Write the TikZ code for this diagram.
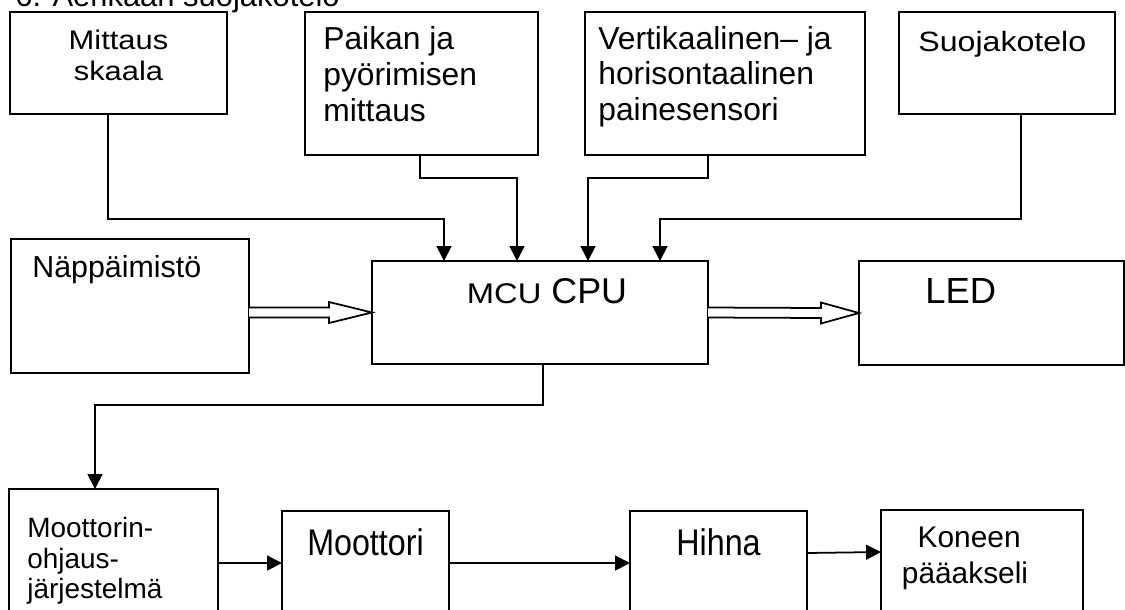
\documentclass[tikz,border=0pt]{standalone}
\usepackage{fontspec}
\setmainfont{Liberation Sans}
\newfontfamily\widefont[FakeStretch=1.15]{Liberation Sans}
\newfontfamily\narrowfont[FakeStretch=0.87]{Liberation Sans}
\usetikzlibrary{arrows.meta,calc}
\newcommand{\px}{0.02cm}

\begin{document}
\begin{tikzpicture}[x=\px, y=-\px,
  box/.style={draw, line width=1pt, anchor=north west, inner sep=0pt, outer sep=0pt},
  txt/.style={anchor=north west, align=left, inner sep=0pt},
  ctxt/.style={anchor=north, align=center, inner sep=0pt},
  arr/.style={line width=1pt, -{Triangle[length=8.5pt, width=8.5pt]}},
  hollow/.style={line width=1pt, line join=miter, fill=white}]
\useasboundingbox (0,0) rectangle (1125,609);
\clip (0,0) rectangle (1125,609);

% Title (cut off at the top)
\node[anchor=base west, inner sep=0pt, font=\fontsize{17.6}{20}\selectfont] (title) at (15,6) {6. Aerikaan suojakotelo};

% Sensors
\node[box, minimum width=217*\px, minimum height=102*\px, label={[ctxt, font=\widefont\fontsize{15.3}{17.6}\selectfont, shift={(0,17.5)}]north:{Mittaus\\skaala}}] (mit) at (10,12) {};
\node[box, minimum width=233*\px, minimum height=143*\px, label={[txt, font=\fontsize{18.1}{20.4}\selectfont, shift={(18,14)}]north west:{Paikan ja\\pyörimisen\\mittaus}}] (pai) at (305,12) {};
\node[box, minimum width=280*\px, minimum height=143*\px, label={[txt, font=\fontsize{18.1}{20.1}\selectfont, shift={(13,14)}]north west:{Vertikaalinen– ja\\horisontaalinen\\painesensori}}] (ver) at (585,12) {};
\node[box, minimum width=216*\px, minimum height=102*\px, label={[txt, font=\widefont\fontsize{15.9}{18}\selectfont, shift={(19,19)}]north west:{Suojakotelo}}] (suo) at (899,12) {};

% Middle row
\node[box, minimum width=238*\px, minimum height=134*\px, label={[txt, font=\fontsize{17.3}{20}\selectfont, shift={(21,16)}]north west:{Näppäimistö}}] (nap) at (11,239) {};
\node[box, minimum width=336*\px, minimum height=103*\px, label={[ctxt, font=\fontsize{20.4}{24}\selectfont, shift={(7,17)}]north:{{\widefont\fontsize{16.2}{19}\selectfont MCU} CPU}}] (cpu) at (372,261) {};
\node[box, minimum width=265*\px, minimum height=104*\px, label={[txt, font=\fontsize{20.7}{24}\selectfont, shift={(66,17.5)}]north west:{LED}}] (led) at (859,261) {};

% Drive chain
\node[box, minimum width=209*\px, minimum height=140*\px, label={[txt, font=\fontsize{15.9}{17.3}\selectfont, shift={(18,28)}]north west:{Moottorin-\\ohjaus-\\järjestelmä}}] (moc) at (9,489) {};
\node[box, minimum width=167*\px, minimum height=120*\px, label={[ctxt, font=\narrowfont\fontsize{21.1}{24}\selectfont, shift={(0,17)}]north:{Moottori}}] (mot) at (282,511) {};
\node[box, minimum width=177*\px, minimum height=120*\px, label={[ctxt, font=\narrowfont\fontsize{21.1}{24}\selectfont, shift={(0,17)}]north:{Hihna}}] (hih) at (630,511) {};
\node[box, minimum width=202*\px, minimum height=120*\px, label={[ctxt, font=\fontsize{17}{20.4}\selectfont, shift={(-17,17)}]north:{\ Koneen\\pääakseli}}] (kon) at (881,510) {};

% Arrows into the CPU
\draw[arr] ($(mit.south)+(-10.5,0)$) -- ++(0,105) -| ($(cpu.north)+(-96,0)$);
\draw[arr] ($(pai.south)+(-1.5,0)$) -- ++(0,23) -| ($(cpu.north)+(-23,0)$);
\draw[arr] ($(ver.south)+(-17,0)$) -- ++(0,23) -| ($(cpu.north)+(48,0)$);
\draw[arr] ($(suo.south)+(14,0)$) -- ++(0,105) -| ($(cpu.north)+(120,0)$);

% Hollow arrows
\coordinate (napout) at (nap.east |- cpu.west);
\draw[hollow] ($(napout)+(0,-5)$) -- ($(cpu.west)+(-43,-5)$) -- ($(cpu.west)+(-43,-10.5)$) -- (cpu.west)
  -- ($(cpu.west)+(-43,10.5)$) -- ($(cpu.west)+(-43,5)$) -- ($(napout)+(0,5)$);
\draw[hollow] ($(cpu.east)+(0,-5)$) -- ($(led.west)+(-38,-5)$) -- ($(led.west)+(-38,-10.5)$) -- (led.west)
  -- ($(led.west)+(-38,10.5)$) -- ($(led.west)+(-38,5)$) -- ($(cpu.east)+(0,5)$);

% CPU to motor control and on
\draw[arr] ($(cpu.south)+(3,0)$) -- ++(0,41) -| ($(moc.north)+(-18.5,0)$);
\draw[arr] ($(moc.north east)+(0,74)$) -- ($(mot.north west)+(0,52)$);
\draw[arr] ($(mot.north east)+(0,52)$) -- ($(hih.north west)+(0,52)$);
\draw[arr] ($(hih.north east)+(0,42)$) -- ($(kon.north west)+(0,42)$);
\end{tikzpicture}
\end{document}
